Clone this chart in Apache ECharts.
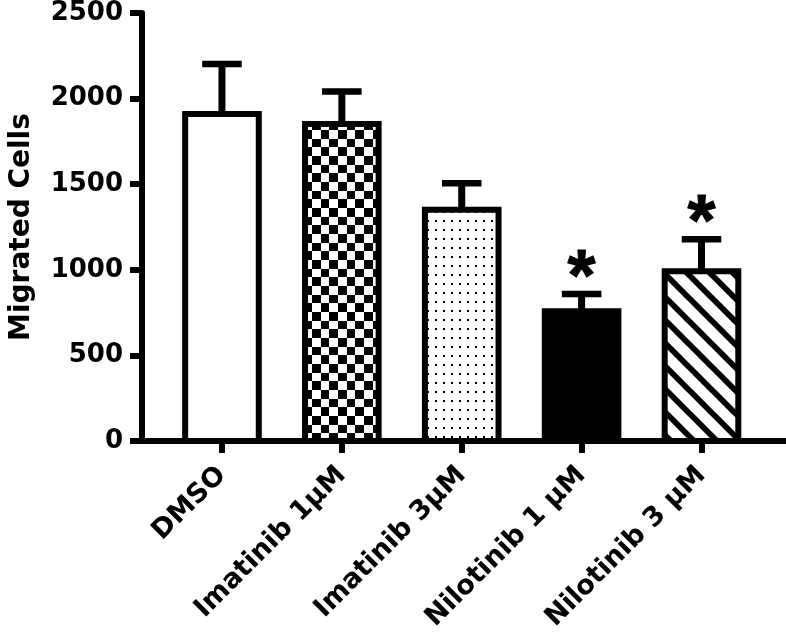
<!DOCTYPE html>
<html>
<head>
<meta charset="utf-8">
<script src="https://cdn.jsdelivr.net/npm/echarts@6/dist/echarts.min.js"></script>
<style>
html,body{margin:0;padding:0;background:#fff;}
#chart{width:786px;height:642px;}
</style>
</head>
<body>
<div id="chart"></div>
<script>
// ---- data ----
const categories = ['DMSO', 'Imatinib 1µM', 'Imatinib 3µM', 'Nilotinib 1 µM', 'Nilotinib 3 µM'];
const means = [1910, 1852, 1351, 758, 991];
const sems = [292, 189, 154, 101, 187];
const significant = [false, false, false, true, true];
const yTicks = [0, 500, 1000, 1500, 2000, 2500];

// ---- fill patterns ----
function makeCanvas(w, h) { const c = document.createElement('canvas'); c.width = w; c.height = h; return c; }
function checkerPattern() {
  const c = makeCanvas(52, 52), g = c.getContext('2d');
  g.fillStyle = '#fff'; g.fillRect(0, 0, 52, 52);
  g.fillStyle = '#000';
  const b = [0, 9, 17, 26, 35, 43, 52];
  for (let i = 0; i < 6; i++) for (let j = 0; j < 6; j++) {
    if ((i + j) % 2 === 0) g.fillRect(b[i], b[j], b[i + 1] - b[i], b[j + 1] - b[j]);
  }
  return c;
}
function dotPattern() {
  const c = makeCanvas(8, 9), g = c.getContext('2d');
  g.fillStyle = '#fff'; g.fillRect(0, 0, 8, 9);
  g.fillStyle = '#000'; g.fillRect(3, 4, 2, 2);
  return c;
}
function stripePattern() {
  const P = 23, c = makeCanvas(P, P), g = c.getContext('2d');
  g.fillStyle = '#fff'; g.fillRect(0, 0, P, P);
  g.strokeStyle = '#000'; g.lineWidth = 5.8; g.lineCap = 'butt';
  for (let k = -1; k <= 1; k++) {
    g.beginPath(); g.moveTo(k * P - 2, -2); g.lineTo(k * P + P + 2, P + 2); g.stroke();
  }
  return c;
}
const fills = [
  '#ffffff',
  { image: checkerPattern(), repeat: 'repeat' },
  { image: dotPattern(), repeat: 'repeat' },
  '#000000',
  { image: stripePattern(), repeat: 'repeat' }
];

const seriesData = categories.map((c, i) => [i, means[i], sems[i], significant[i] ? 1 : 0]);

function renderItem(params, api) {
  const i = api.value(0), m = api.value(1), e = api.value(2), sig = api.value(3);
  const base = api.coord([i, 0]);
  const top = api.coord([i, m]);
  const errTop = api.coord([i, m + e]);
  const band = api.size([1, 0])[0];
  const bw = band * 0.614;
  const capW = band * 0.33;
  const x = top[0];
  const children = [
    { type: 'line', shape: { x1: x, y1: top[1], x2: x, y2: errTop[1] }, style: { stroke: '#000', lineWidth: 7 } },
    { type: 'line', shape: { x1: x - capW / 2, y1: errTop[1], x2: x + capW / 2, y2: errTop[1] }, style: { stroke: '#000', lineWidth: 6.5 } },
    { type: 'rect', shape: { x: x - bw / 2, y: top[1], width: bw, height: base[1] - top[1] },
      style: { fill: fills[i], stroke: '#000', lineWidth: 6 } }
  ];
  if (sig) {
    children.push({ type: 'text', style: { text: '*', x: x, y: errTop[1] - 14, align: 'center', verticalAlign: 'middle',
      font: 'bold 72px "Liberation Sans", Arial, sans-serif', fill: '#000', stroke: '#000', lineWidth: 1 } });
  }
  return { type: 'group', children: children };
}

const chart = echarts.init(document.getElementById('chart'), null, { renderer: 'canvas' });
chart.setOption({
  animation: false,
  backgroundColor: '#fff',
  grid: { left: 138, right: 0, top: 13, bottom: 201, containLabel: false },
  xAxis: {
    type: 'value', min: -0.667, max: 4.705,
    splitLine: { show: false },
    axisLine: { show: true, onZero: false, lineStyle: { color: '#000', width: 6 } },
    axisTick: { show: true, customValues: [0, 1, 2, 3, 4], length: 12, lineStyle: { color: '#000', width: 6 } },
    axisLabel: {
      customValues: [0, 1, 2, 3, 4], rotate: 45, margin: 30,
      formatter: v => categories[Math.round(v)] || '',
      color: '#000', fontFamily: 'DejaVu Sans', fontWeight: 'bold', fontSize: 27
    }
  },
  yAxis: {
    type: 'value', min: 0, max: 2500, interval: 500,
    name: 'Migrated Cells', nameLocation: 'middle', nameGap: 106, nameRotate: 90,
    nameTextStyle: { color: '#000', fontFamily: 'DejaVu Sans', fontWeight: 'bold', fontSize: 28 },
    splitLine: { show: false },
    axisLine: { show: true, onZero: false, lineStyle: { color: '#000', width: 6 } },
    axisTick: { show: true, length: 12, lineStyle: { color: '#000', width: 6 } },
    axisLabel: { margin: 19, color: '#000', fontFamily: 'DejaVu Sans', fontWeight: 'bold', fontSize: 26,
      formatter: v => String(v) }
  },
  series: [{
    type: 'custom', renderItem: renderItem, data: seriesData,
    encode: { x: 0, y: 1 }, clip: false
  }]
});
</script>
</body>
</html>
